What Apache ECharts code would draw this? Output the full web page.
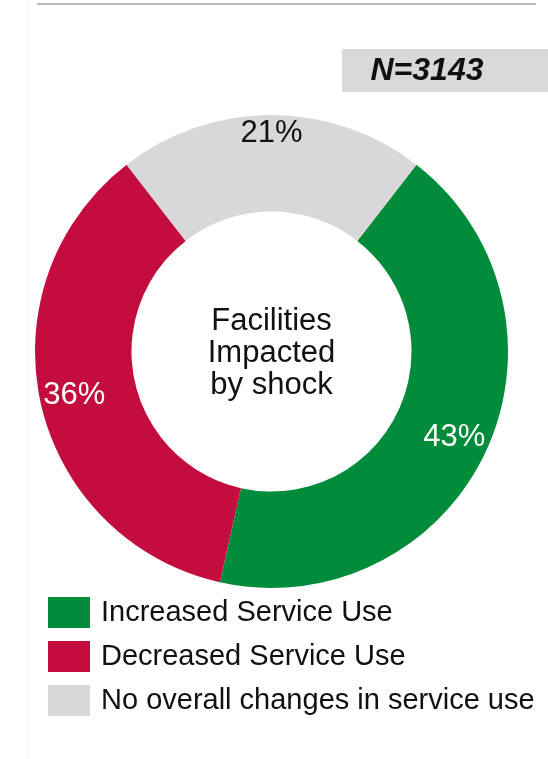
<!DOCTYPE html>
<html>
<head>
<meta charset="utf-8">
<script src="https://cdn.jsdelivr.net/npm/echarts@6/dist/echarts.min.js"></script>
<style>
  html, body { margin: 0; padding: 0; background: #ffffff; }
  #chart { width: 548px; height: 759px; }
</style>
</head>
<body>
<div id="chart"></div>
<script>
// Share of facilities impacted by shock, by change in service use (%)
const categories = [
  'Increased Service Use',
  'Decreased Service Use',
  'No overall changes in service use'
];
const shares = [43, 36, 21];
const sampleSize = 3143;
const centerCaption = ['Facilities', 'Impacted', 'by shock'];

const palette = ['#008C3A', '#C30D3E', '#D8D8DA'];
const labelColors = ['#ffffff', '#ffffff', '#111111'];
const FONT = '"Liberation Sans", Arial, Helvetica, sans-serif';

const chart = echarts.init(document.getElementById('chart'), null, { renderer: 'canvas' });

const CX = 271.5, CY = 351.5;
const START = 52.2;

function pieData(showFor) {
  return categories.map((name, i) => ({
    name,
    value: shares[i],
    label: { show: showFor(i), color: labelColors[i] }
  }));
}

// Transparent ring that only carries value labels at a given radius band
function labelRing(radius, showFor) {
  return {
    type: 'pie',
    silent: true,
    center: [CX, CY],
    radius,
    startAngle: START,
    clockwise: true,
    avoidLabelOverlap: false,
    itemStyle: { color: 'rgba(0,0,0,0)', borderWidth: 0 },
    label: {
      position: 'inside',
      formatter: '{c}%',
      fontSize: 31,
      fontFamily: FONT
    },
    labelLine: { show: false },
    emphasis: { disabled: true },
    data: pieData(showFor)
  };
}

chart.setOption({
  animation: false,
  color: palette,
  graphic: [
    { type: 'line', shape: { x1: 28.5, y1: 0, x2: 28.5, y2: 759 },
      style: { stroke: '#f3f3f3', lineWidth: 1 }, silent: true },
    { type: 'line', shape: { x1: 37, y1: 4, x2: 536, y2: 4 },
      style: { stroke: '#a0a0a0', lineWidth: 1.5 }, silent: true },
    { type: 'rect', shape: { x: 342, y: 49, width: 206, height: 43 },
      style: { fill: '#D9D9D9' }, silent: true },
    { type: 'text', x: 427, y: 71, silent: true,
      style: { text: 'N=' + sampleSize, fill: '#111111', align: 'center', verticalAlign: 'middle',
               font: 'italic bold 32px ' + FONT } },
    // caption in the hole of the donut
    { type: 'text', x: CX, y: CY + 1.5, silent: true,
      style: { text: centerCaption.join('\n'), fill: '#111111', align: 'center', verticalAlign: 'middle',
               font: '31px ' + FONT, lineHeight: 32 } }
  ],
  legend: {
    orient: 'vertical',
    left: 48,
    top: 597,
    padding: 0,
    itemWidth: 42,
    itemHeight: 31,
    itemGap: 13,
    icon: 'rect',
    selectedMode: false,
    data: categories,
    textStyle: {
      fontSize: 29,
      lineHeight: 31,
      color: '#111111',
      fontFamily: FONT,
      padding: [0, 0, 0, 6]
    }
  },
  series: [
    {
      type: 'pie',
      name: 'Facilities',
      silent: true,
      center: [CX, CY],
      radius: [140, 236.5],
      startAngle: START,
      clockwise: true,
      label: { show: false },
      labelLine: { show: false },
      emphasis: { disabled: true },
      itemStyle: { borderWidth: 0 },
      data: categories.map((name, i) => ({ name, value: shares[i] }))
    },
    labelRing([190, 208], i => i !== 2),
    labelRing([206, 225], i => i === 2)
  ]
});
</script>
</body>
</html>
